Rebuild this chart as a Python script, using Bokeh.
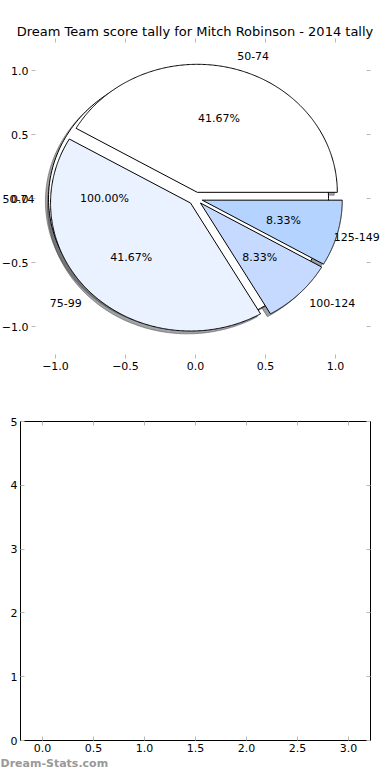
import numpy as np
from bokeh.plotting import figure
from bokeh.models import ColumnDataSource, LabelSet, Label, LinearAxis, FixedTicker
from bokeh.core.properties import value
from bokeh.layouts import column
from bokeh.embed import file_html
from bokeh.resources import INLINE

# ---------------- data ----------------
title = "Dream Team score tally for Mitch Robinson - 2014 tally"

# first (full-circle) pie that sits underneath
pie0_labels = ["50-74"]
pie0_values = [1]

# main pie
categories = ["50-74", "75-99", "100-124", "125-149"]
counts = [5, 5, 1, 1]
colors = ["#FFFFFF", "#EAF1FF", "#C6D9FF", "#B4D4FF"]
explode = 0.05

pie_ticks = [-1.0, -0.5, 0.0, 0.5, 1.0]
pie_tick_labels = ["−1.0", "−0.5", "0.0", "0.5", "1.0"]
pie_limit = 1.25
bar_x_ticks = [0.0, 0.5, 1.0, 1.5, 2.0, 2.5, 3.0]
bar_x_labels = ["0.0", "0.5", "1.0", "1.5", "2.0", "2.5", "3.0"]
bar_y_ticks = [0, 1, 2, 3, 4, 5]
bar_y_labels = ["0", "1", "2", "3", "4", "5"]
bar_xlim = (-0.2157, 3.2157)
bar_ylim = (0, 5)
watermark = "Dream-Stats.com"

FONT = "DejaVu Sans"
TICK_COLOR = "#b8b8b8"
SHADOW_OFF = 0.022
LABEL_PX = 11.0
CHAR_EM = 0.62   # rough average glyph width (em) of DejaVu Sans digits


def pie_geometry(values, cols, expl):
    total = float(sum(values))
    theta1 = 0.0
    wedges = []
    for v, c in zip(values, cols):
        frac = v / total
        theta2 = theta1 + 360.0 * frac
        tm = np.deg2rad((theta1 + theta2) / 2.0)
        cx, cy = expl * np.cos(tm), expl * np.sin(tm)
        t = np.deg2rad(np.linspace(theta1, theta2, 300))
        xs = list(cx + np.cos(t))
        ys = list(cy + np.sin(t))
        if frac < 1.0:
            xs = [cx] + xs
            ys = [cy] + ys
        wedges.append(dict(xs=xs, ys=ys, color=c,
                           lx=cx + 1.1 * np.cos(tm), ly=cy + 1.1 * np.sin(tm),
                           px=cx + 0.6 * np.cos(tm), py=cy + 0.6 * np.sin(tm),
                           pct="%1.2f%%" % (100.0 * frac)))
        theta1 = theta2
    return wedges


def shadow_color(hexcol):
    h = hexcol.lstrip("#")
    r, g, b = (int(h[i:i + 2], 16) for i in (0, 2, 4))
    return "#%02x%02x%02x" % (int(r * 0.3), int(g * 0.3), int(b * 0.3))


def style_axis(ax, ticks, labels, loc, bounds=None, show_labels=True, line_color=None):
    ax.ticker = FixedTicker(ticks=ticks)
    ax.major_label_overrides = {t: (l if show_labels else "") for t, l in zip(ticks, labels)}
    ax.fixed_location = loc
    if bounds is not None:
        ax.bounds = bounds
    ax.axis_line_color = line_color
    ax.axis_line_width = 1
    ax.axis_line_cap = "square"
    ax.major_tick_line_color = TICK_COLOR
    ax.major_tick_line_width = 1
    ax.major_tick_in = 4
    ax.major_tick_out = 0
    ax.minor_tick_line_color = None
    ax.major_label_text_font = FONT
    ax.major_label_text_color = "black"
    ax.major_label_text_font_size = "11px"
    ax.major_label_standoff = 3


# ---------------- top: pie (frame = whole canvas) ----------------
W1, H1 = 382, 382
PPX, PPY = 140.0, 128.0          # pixels per data unit
CXP, CYP = 195.0, 198.0          # canvas position of data origin
p1 = figure(frame_width=W1, frame_height=H1,
            x_range=(-CXP / PPX, (W1 - CXP) / PPX),
            y_range=(-(H1 - CYP) / PPY, CYP / PPY),
            min_border=0, output_backend="svg", toolbar_location=None)
p1.outline_line_color = None
p1.grid.visible = False
p1.background_fill_color = "white"
p1.border_fill_color = "white"

# left axis moved in just enough that "−1.0" stays inside the canvas
left_axis_x = -(CXP - 31.0) / PPX
style_axis(p1.xaxis[0], pie_ticks, pie_tick_labels, -pie_limit)
style_axis(p1.yaxis[0], pie_ticks, pie_tick_labels, left_axis_x)
ax_top = LinearAxis()
style_axis(ax_top, pie_ticks, pie_tick_labels, pie_limit, show_labels=False)
p1.add_layout(ax_top, "above")
ax_right = LinearAxis()
style_axis(ax_right, pie_ticks, pie_tick_labels, pie_limit, show_labels=False)
p1.add_layout(ax_right, "right")

pie0 = pie_geometry(pie0_values, ["#FFFFFF"], explode)
pie1 = pie_geometry(counts, colors, explode)

# shadows first (all below the wedges)
for w in pie0 + pie1:
    sc = shadow_color(w["color"])
    p1.patch([x - SHADOW_OFF for x in w["xs"]], [y - SHADOW_OFF for y in w["ys"]],
             fill_color=sc, fill_alpha=0.5, line_color=sc, line_alpha=0.5, line_width=1)
for w in pie0 + pie1:
    p1.patch(w["xs"], w["ys"], fill_color=w["color"], line_color="black", line_width=1)

all_labels = [(w["lx"], w["ly"], lab) for w, lab in zip(pie0, pie0_labels)] + \
             [(w["lx"], w["ly"], lab) for w, lab in zip(pie1, categories)]


def nudge(x, text):
    # keep left-aligned labels inside the canvas: shift left by any overflow
    start = CXP + x * PPX
    end = start + len(text) * CHAR_EM * LABEL_PX
    return -max(0.0, end - (W1 - 1))


lefts = [a for a in all_labels if a[0] > 0]
rights = [a for a in all_labels if a[0] <= 0]
left_src = ColumnDataSource(dict(x=[a[0] for a in lefts], y=[a[1] for a in lefts],
                                 text=[a[2] for a in lefts],
                                 dx=[nudge(a[0], a[2]) for a in lefts]))
right_src = ColumnDataSource(dict(x=[a[0] for a in rights], y=[a[1] for a in rights],
                                  text=[a[2] for a in rights], dx=[0.0] * len(rights)))
pct_src = ColumnDataSource(dict(x=[w["px"] for w in pie0 + pie1],
                                y=[w["py"] for w in pie0 + pie1],
                                text=[w["pct"] for w in pie0 + pie1],
                                dx=[0.0] * len(pie0 + pie1)))
for src, align in ((left_src, "left"), (right_src, "right"), (pct_src, "center")):
    p1.add_layout(LabelSet(x="x", y="y", text="text", source=src, text_align=align,
                           x_offset="dx", text_baseline="middle", text_font=value(FONT),
                           text_font_size="11px", text_color="black"))

p1.add_layout(Label(x=(194.5 - CXP) / PPX, y=(CYP - 30.5) / PPY, text=title,
                    text_align="center", text_baseline="middle", text_font=FONT,
                    text_font_size="13px", text_color="black"))

# ---------------- bottom: empty axes (frame = whole canvas) ----------------
W2, H2 = 382, 390
FL, FR, FT, FB = 20.0, 370.0, 39.0, 358.0   # box edges in canvas pixels
ppx2 = (FR - FL) / (bar_xlim[1] - bar_xlim[0])
ppy2 = (FB - FT) / (bar_ylim[1] - bar_ylim[0])
x2_range = (bar_xlim[0] - FL / ppx2, bar_xlim[1] + (W2 - FR) / ppx2)
y2_range = (bar_ylim[0] - (H2 - FB) / ppy2, bar_ylim[1] + FT / ppy2)
p2 = figure(frame_width=W2, frame_height=H2, x_range=x2_range, y_range=y2_range,
            min_border=0, output_backend="svg", toolbar_location=None)
p2.outline_line_color = None
p2.grid.visible = False
p2.background_fill_color = "white"
p2.border_fill_color = "white"
style_axis(p2.xaxis[0], bar_x_ticks, bar_x_labels, bar_ylim[0], bounds=bar_xlim, line_color="black")
style_axis(p2.yaxis[0], bar_y_ticks, bar_y_labels, bar_xlim[0], bounds=bar_ylim, line_color="black")
ax2_top = LinearAxis()
style_axis(ax2_top, bar_x_ticks, bar_x_labels, bar_ylim[1], bounds=bar_xlim,
           show_labels=False, line_color="black")
p2.add_layout(ax2_top, "above")
ax2_right = LinearAxis()
style_axis(ax2_right, bar_y_ticks, bar_y_labels, bar_xlim[1], bounds=bar_ylim,
           show_labels=False, line_color="black")
p2.add_layout(ax2_right, "right")

p2.add_layout(Label(x=x2_range[0], y=bar_ylim[0] - (381.0 - FB) / ppy2, text=watermark,
                    text_align="left", text_baseline="middle", text_font=FONT,
                    text_font_size="11px", text_font_style="bold", text_color="#999999"))

layout = column(p1, p2, spacing=0)
open("out.html", "w").write(file_html(layout, INLINE))
